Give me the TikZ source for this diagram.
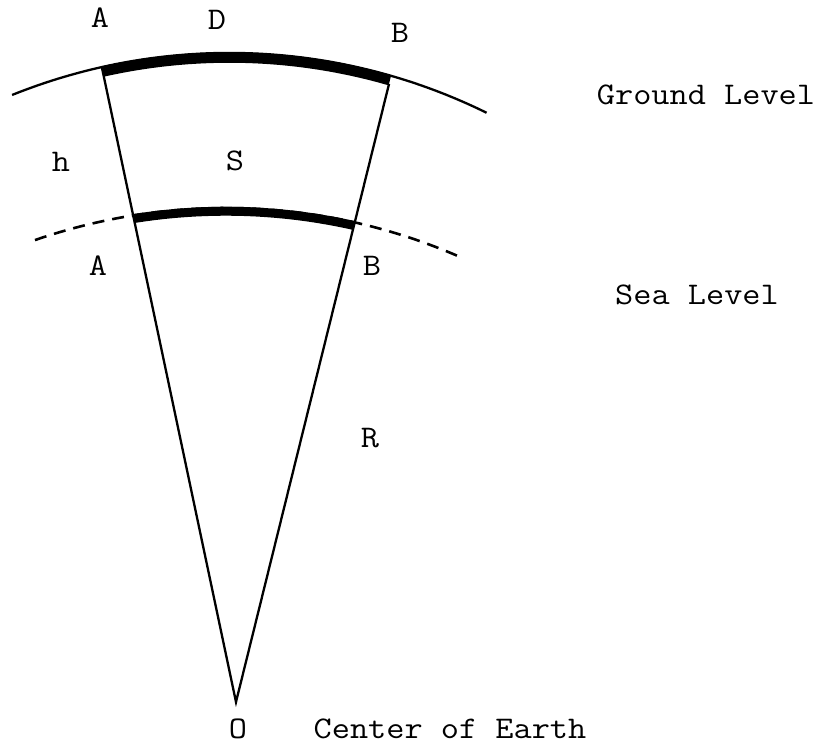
\documentclass[tikz,border=0pt]{standalone}
\usepackage{fontspec}
\setmonofont{Latin Modern Mono}[FakeStretch=1.12]
\usetikzlibrary{calc}
\begin{document}
\begin{tikzpicture}[x=1pt,y=-1pt,
  lbl/.style={font=\ttfamily\fontsize{31.5}{32}\selectfont, inner sep=0pt},
  rimline/.style={line width=2.3pt, line join=miter},
  seadash/.style={line width=2.6pt, dash pattern=on 12pt off 8pt},
  heavyarc/.style={line width=10.5pt}]
\useasboundingbox (0,0) rectangle (830,746);
% points
\coordinate (O) at (236,702);
\coordinate (Ag) at (102,68);
\coordinate (Bg) at (389,84);
% radial lines
\draw[rimline] (Ag) -- (O) -- (Bg);
% ground level arc
\draw[rimline] plot[domain=-111.9:-63.8, samples=90] ({229.4+582.6*cos(\x)},{635.5+582.6*sin(\x)});
% sea level arc (dashed)
\draw[seadash] plot[domain=-109.06:-66.61, samples=90] ({225.9+584.7*cos(\x)},{792.7+584.7*sin(\x)});
% thick arcs between the radial lines
\begin{scope}
  \clip (O) -- ($(O)!1.3!(Ag)$) -- ($(O)!1.3!(Bg)$) -- cycle;
  \draw[heavyarc] plot[domain=-105:-70, samples=90] ({229.4+578*cos(\x)},{635.5+578*sin(\x)});
  \draw[heavyarc, line width=9pt] plot[domain=-104:-72, samples=90] ({225.9+581.5*cos(\x)},{792.7+581.5*sin(\x)});
\end{scope}
% labels
\node[lbl] (lA1) at (100,18) {A};
\node[lbl] (lD) at (217,20) {D};
\node[lbl] (lB1) at (400,33) {B};
\node[lbl] (lGround) at (706,95) {Ground Level};
\node[lbl] (lh) at (61,162) {h};
\node[lbl] (lS) at (235,161) {S};
\node[lbl] (lA2) at (98,266) {A};
\node[lbl] (lB2) at (372,266) {B};
\node[lbl] (lSea) at (697,295) {Sea Level};
\node[lbl] (lR) at (370,438) {R};
\node[lbl] (lO) at (238,729) {O};
\node[lbl] (lCenter) at (450,729) {Center of Earth};
\end{tikzpicture}
\end{document}
